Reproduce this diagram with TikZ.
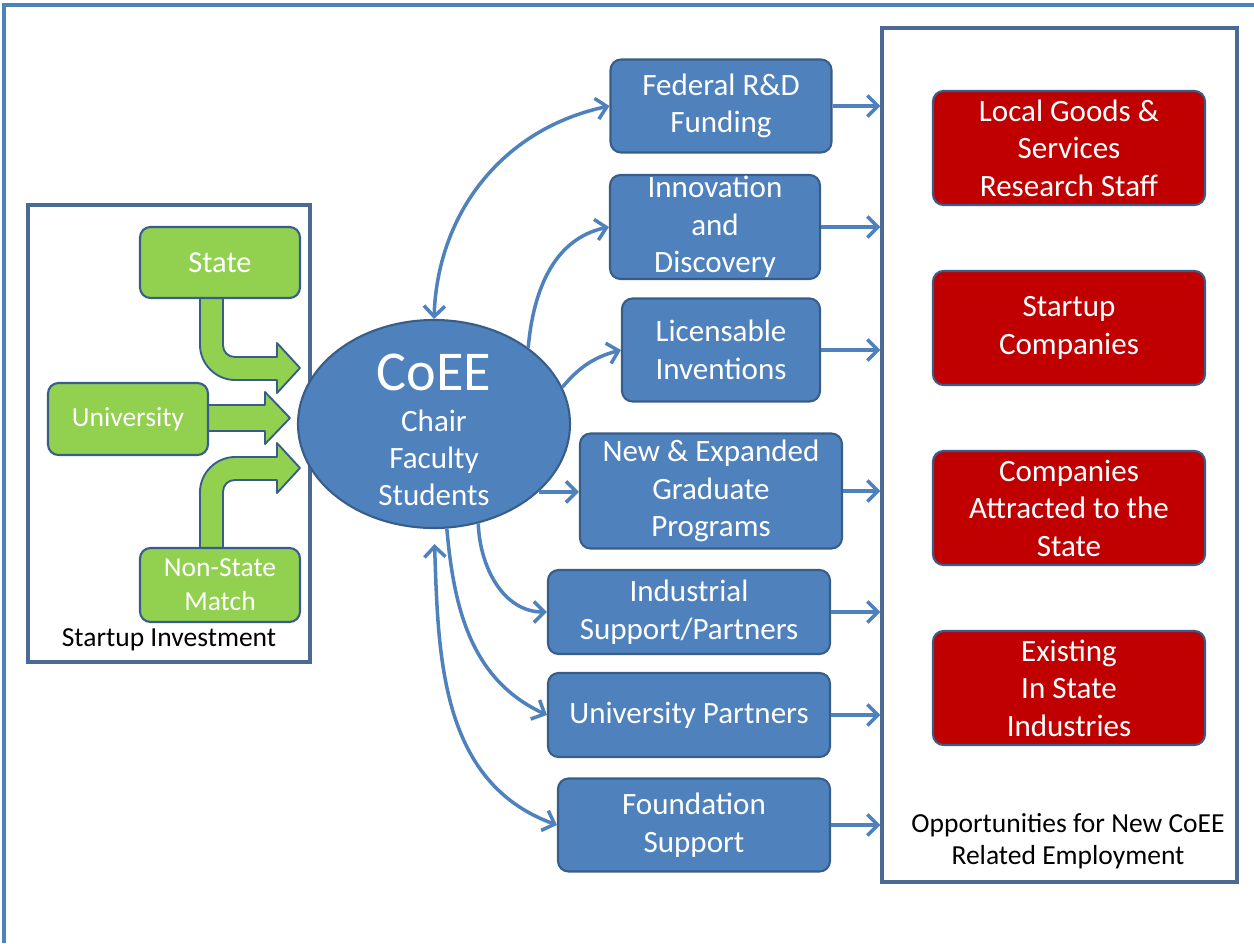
\documentclass[tikz,border=0pt]{standalone}
\usepackage{fontspec}
\setmainfont{Carlito}
\usetikzlibrary{arrows.meta,shapes.geometric}

\definecolor{coeeBlue}{HTML}{4F81BD}
\definecolor{coeeEdge}{HTML}{385D8A}
\definecolor{coeeGreen}{HTML}{92D050}
\definecolor{coeeRed}{HTML}{C00000}
\definecolor{coeeFrame}{HTML}{4A6A94}

\tikzset{
  bluebox/.style={draw=coeeEdge, fill=coeeBlue, line width=1.8pt, rounded corners=9pt,
    text=white, align=center, inner sep=0pt, font=\fontsize{26.5}{32}\selectfont},
  redbox/.style={bluebox, fill=coeeRed, minimum width=81.6mm, minimum height=34.2mm},
  greenbox/.style={bluebox, fill=coeeGreen, minimum width=48mm, font=\fontsize{23.5}{29}\selectfont},
  framebox/.style={draw=coeeFrame, line width=2.8pt, inner sep=0pt},
  caption/.style={align=center, font=\fontsize{23.5}{27}\selectfont},
  link/.style={draw=coeeBlue, line width=3pt, -{Straight Barb[length=9pt,width=18pt]}},
  twolink/.style={link, {Straight Barb[length=9pt,width=18pt]}-{Straight Barb[length=9pt,width=18pt]}},
  blockarrow/.style={fill=coeeGreen, draw=coeeEdge, line width=1.6pt, line join=round}
}

\begin{document}
\begin{tikzpicture}[x=0.3mm, y=-0.3mm]

\useasboundingbox (0,0) rectangle (1254,943);
% page edge
\draw[coeeBlue, line width=3pt] (4,943) -- (4,5) -- (1254,5);

% the two frames
\node[framebox, minimum width=84.6mm, minimum height=137.1mm] (inbox) at (169,433.5) {};
\node[framebox, minimum width=106.5mm, minimum height=256.2mm] (outbox) at (1059.5,455) {};

% green block arrows
\filldraw[blockarrow] (200,298) -- (200,345) .. controls (200,364) and (216,380) .. (235,380)
  -- (277,380) -- (277,393) -- (300,368) -- (277,343) -- (277,357) -- (235,357)
  .. controls (228,357) and (223,352) .. (223,345) -- (223,298) -- cycle;
\filldraw[blockarrow] (208,405) -- (265,405) -- (265,392) -- (290,418) -- (265,444)
  -- (265,431) -- (208,431) -- cycle;
\filldraw[blockarrow] (200,548) -- (200,492) .. controls (200,473) and (216,457) .. (235,457)
  -- (277,457) -- (277,443) -- (300,468) -- (277,493) -- (277,480) -- (235,480)
  .. controls (228,480) and (223,485) .. (223,492) -- (223,548) -- cycle;

% startup investment
\node[greenbox, minimum height=21.3mm, font=\fontsize{26}{32}\selectfont] (state) at (220,262.5) {State};
\node[greenbox, minimum height=21.6mm] (univ) at (128,419) {University};
\node[greenbox, minimum height=22.2mm] (match) at (220,585) {Non-State\\Match};
\node[caption] (invest) at (169,640) {Startup Investment};

% centre
\node[bluebox, ellipse, sharp corners, minimum width=81.6mm, minimum height=62.4mm,
  label={[text=white, align=center, yshift=-5pt, font=\fontsize{26.5}{32}\selectfont]center:{\fontsize{48}{48}\selectfont CoEE}\\[3pt]Chair\\Faculty\\Students}]
  (coee) at (434,424) {};

% outcomes
\node[bluebox, minimum width=66.3mm, minimum height=27.9mm] (fed) at (721,106) {Federal R\&D\\Funding};
\node[bluebox, minimum width=63mm, minimum height=31.2mm] (innov) at (715,227) {Innovation\\and\\Discovery};
\node[bluebox, minimum width=59.4mm, minimum height=30.9mm] (lic) at (721,350) {Licensable\\Inventions};
\node[bluebox, minimum width=78.6mm, minimum height=34.5mm] (grad) at (711,491) {New \& Expanded\\Graduate\\Programs};
\node[bluebox, minimum width=84.6mm, minimum height=25.2mm] (ind) at (689,612) {Industrial\\Support/Partners};
\node[bluebox, minimum width=84.6mm, minimum height=25.2mm] (unip) at (689,715) {University Partners};
\node[bluebox, minimum width=81.6mm, minimum height=27.9mm] (found) at (694,825) {Foundation\\Support};

% employment
\node[redbox] (goods) at (1069,148) {Local Goods \&\\Services\\Research Staff};
\node[redbox] (startup) at (1069,328) {Startup\\Companies};
\node[redbox] (attract) at (1069,508) {Companies\\Attracted to the\\State};
\node[redbox] (exist) at (1069,688) {Existing\\In State\\Industries};
\node[caption] (jobs) at (1068,841) {Opportunities for New CoEE\\Related Employment};

% links
\draw[twolink] (coee.north) to[out=88,in=192] (fed.west);
\draw[link] (coee.39) to[out=85,in=192] (innov.west);
\draw[link] (coee.16) to[out=50,in=195] (lic.west);
\draw[link] (coee.-33) -- (coee.-33 -| grad.west);
\draw[link] (coee.-66) to[out=-88,in=180] (ind.west);
\draw[link] (coee.-83) to[out=-85,in=155] (unip.west);
\draw[twolink, shorten <=4.5mm] (coee.south) to[out=-88,in=160] (found.west);

\foreach \b in {fed,innov,lic,grad,ind,unip,found}
{
    \draw[link] (\b.east) -- (\b.east -| outbox.west);
};

\end{tikzpicture}
\end{document}
